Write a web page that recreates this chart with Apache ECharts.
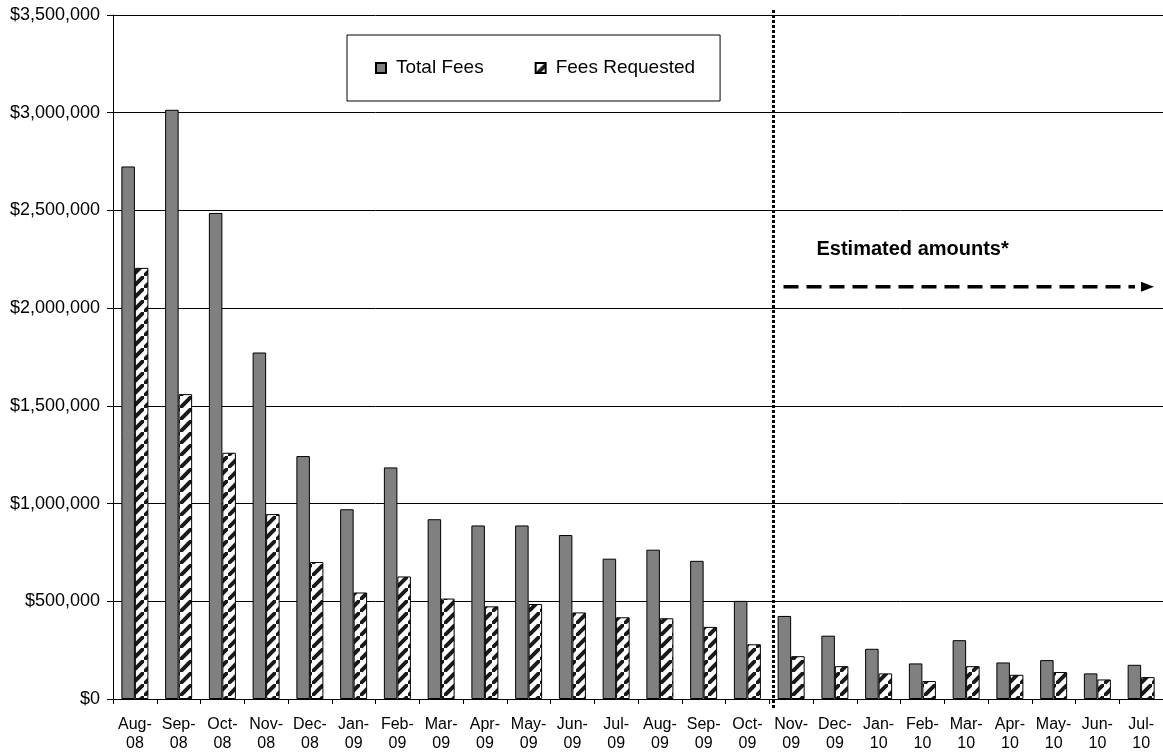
<!DOCTYPE html>
<html>
<head>
<meta charset="utf-8">
<script src="https://cdn.jsdelivr.net/npm/echarts@6/dist/echarts.min.js"></script>
<style>
html,body{margin:0;padding:0;background:#fff;}
#main{width:1163px;height:753px;}
</style>
</head>
<body>
<div id="main"></div>
<script>
const categories = ['Aug-08','Sep-08','Oct-08','Nov-08','Dec-08','Jan-09','Feb-09','Mar-09','Apr-09','May-09','Jun-09','Jul-09','Aug-09','Sep-09','Oct-09','Nov-09','Dec-09','Jan-10','Feb-10','Mar-10','Apr-10','May-10','Jun-10','Jul-10'];
const totalFees = [2725000, 3015000, 2487000, 1773000, 1243000, 971000, 1185000, 920000, 888000, 888000, 839000, 718000, 764000, 707000, 502000, 425000, 324000, 257000, 182000, 301000, 187000, 199000, 131000, 175000];
const feesRequested = [2206000, 1560000, 1260000, 946000, 701000, 545000, 627000, 514000, 474000, 486000, 443000, 418000, 413000, 369000, 280000, 219000, 168000, 131000, 92000, 168000, 124000, 138000, 100000, 112000];
const yTicks = [0, 500000, 1000000, 1500000, 2000000, 2500000, 3000000, 3500000];
const estimateStart = 'Nov-09';
const annotationText = 'Estimated amounts*';

const FONT = "'Liberation Sans', Arial, sans-serif";

// hatch pattern
const T = 12;
const pc = document.createElement('canvas');
pc.width = T; pc.height = T;
const ctx = pc.getContext('2d');
ctx.fillStyle = '#fff';
ctx.fillRect(0, 0, T, T);
ctx.strokeStyle = '#1a1a1a';
ctx.lineWidth = 4;
ctx.beginPath();
ctx.moveTo(-2, T + 2); ctx.lineTo(T + 2, -2);
ctx.moveTo(-T - 2, 2); ctx.lineTo(2, -T - 2);
ctx.moveTo(T - 2, 2 * T + 2); ctx.lineTo(2 * T + 2, T - 2);
ctx.stroke();
const hatch = { image: pc, repeat: 'repeat' };

const chart = echarts.init(document.getElementById('main'));
const option = {
  animation: false,
  backgroundColor: '#fff',
  grid: { left: 113, top: 15, right: 0, bottom: 51, containLabel: false },
  legend: {
    left: 347, top: 35,
    orient: 'horizontal',
    padding: [23, 25, 23, 28],
    borderColor: '#000', borderWidth: 1,
    itemWidth: 10, itemHeight: 10, itemGap: 51,
    textStyle: { fontFamily: FONT, fontSize: 19, color: '#000', lineHeight: 20, padding: [0, 0, 0, 5] },
    data: [
      { name: 'Total Fees', icon: 'rect' },
      { name: 'Fees Requested', icon: 'rect' }
    ]
  },
  xAxis: {
    type: 'category',
    data: categories,
    boundaryGap: true,
    axisLine: { lineStyle: { color: '#000', width: 1 } },
    axisTick: { show: true, interval: 0, length: 5, lineStyle: { color: '#000' } },
    axisLabel: {
      interval: 0, margin: 16, fontFamily: FONT, fontSize: 16, color: '#000', lineHeight: 19,
      formatter: v => v.replace('-', '-\n')
    },
    splitLine: { show: false }
  },
  yAxis: {
    type: 'value',
    min: yTicks[0], max: yTicks[yTicks.length - 1], interval: yTicks[1] - yTicks[0],
    axisLine: { show: true, lineStyle: { color: '#000', width: 1 } },
    axisTick: { show: true, length: 6, inside: false, lineStyle: { color: '#000' } },
    axisLabel: {
      margin: 13, fontFamily: FONT, fontSize: 18, color: '#000',
      formatter: v => '$' + v.toLocaleString('en-US')
    },
    splitLine: { show: true, lineStyle: { color: '#000', width: 1 } }
  },
  series: [
    {
      name: 'Total Fees', type: 'bar', data: totalFees,
      barWidth: 13.5, barGap: '0%',
      itemStyle: { color: '#808080', borderColor: '#000', borderWidth: 1 }
    },
    {
      name: 'Fees Requested', type: 'bar', data: feesRequested,
      barWidth: 13.5, barGap: '0%',
      itemStyle: { color: hatch, borderColor: '#000', borderWidth: 1 }
    }
  ]
};
chart.setOption(option);

// annotations
const idx = categories.indexOf(estimateStart);
const xA = chart.convertToPixel({ xAxisIndex: 0 }, categories[idx]);
const xB = chart.convertToPixel({ xAxisIndex: 0 }, categories[idx + 1]);
const band = xB - xA;
const divX = Math.round(xA - band / 2 + 4) + 0.5;
const yTop = chart.convertToPixel({ yAxisIndex: 0 }, yTicks[yTicks.length - 1]);
const yBot = chart.convertToPixel({ yAxisIndex: 0 }, 0);
const arrowY = chart.convertToPixel({ yAxisIndex: 0 }, 2110000);
const textY = chart.convertToPixel({ yAxisIndex: 0 }, 2300000);
const rightX = chart.getWidth();

chart.setOption({
  graphic: [
    {
      type: 'line', z: 100,
      shape: { x1: divX, y1: yTop - 5, x2: divX, y2: yBot + 10 },
      style: { stroke: '#000', lineWidth: 3, lineDash: [3, 2] }
    },
    {
      type: 'text', z: 100,
      x: divX + 43, y: textY,
      style: { text: annotationText, fontFamily: FONT, fontSize: 20, fontWeight: 'bold', fill: '#000', textVerticalAlign: 'middle', verticalAlign: 'middle' }
    },
    {
      type: 'line', z: 100,
      shape: { x1: divX + 10, y1: arrowY, x2: rightX - 28, y2: arrowY },
      style: { stroke: '#000', lineWidth: 3.5, lineDash: [15, 8] }
    },
    {
      type: 'polygon', z: 100,
      shape: { points: [[rightX - 22, arrowY - 5], [rightX - 9, arrowY], [rightX - 22, arrowY + 5]] },
      style: { fill: '#000' }
    }
  ]
});
</script>
</body>
</html>
